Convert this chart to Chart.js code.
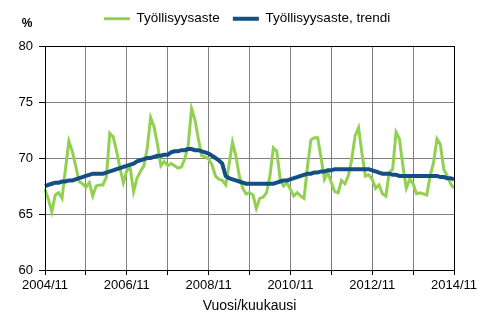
<!DOCTYPE html>
<html>
<head>
<meta charset="utf-8">
<script src="https://cdn.jsdelivr.net/npm/chart.js@4"></script>
<style>
  html, body { margin: 0; padding: 0; background: #fff; }
  #wrap { width: 494px; height: 323px; }
</style>
</head>
<body>
<div id="wrap"><canvas id="chart" width="494" height="323"></canvas></div>
<script>
// Monthly series, 2004/11 ... 2014/11
const startYear = 2004;
const startMonth = 11;
const monthCount = 121;

const months = [];
for (let i = 0; i < monthCount; i++) {
  const m = startMonth - 1 + i;
  months.push(startYear + Math.floor(m / 12) + "/" + String((m % 12) + 1).padStart(2, "0"));
}

const seriesNames = ["Työllisyysaste", "Työllisyysaste, trendi"];

const employmentRate = [
  67.2, 66.3, 65.2, 66.7, 66.9, 66.4, 69.0, 71.5, 70.6, 69.3, 67.9, 67.7,
  67.4, 67.8, 66.6, 67.5, 67.6, 67.6, 68.3, 72.2, 71.9, 70.6, 69.1, 67.8,
  68.9, 69.1, 67.0, 68.2, 68.8, 69.3, 70.9, 73.6, 72.8, 71.2, 69.3, 69.7,
  69.3, 69.5, 69.3, 69.1, 69.2, 69.9, 71.1, 74.4, 73.4, 71.7, 70.2, 70.1,
  69.9, 69.4, 68.4, 68.1, 68.0, 67.6, 69.4, 71.4, 70.2, 68.4, 67.3, 66.8,
  66.9, 66.7, 65.5, 66.4, 66.5, 66.9, 68.4, 70.9, 70.6, 68.1, 67.5, 67.8,
  67.2, 66.6, 66.9, 66.6, 66.4, 69.2, 71.6, 71.8, 71.8, 70.0, 68.1, 68.7,
  67.8, 67.0, 66.9, 68.0, 67.7, 68.4, 69.9, 72.0, 72.7, 70.4, 68.4, 68.5,
  68.1, 67.3, 67.6, 66.8, 66.6, 68.7, 69.0, 72.3, 71.7, 69.3, 67.3, 68.1,
  67.7, 66.8, 66.9, 66.8, 66.7, 68.4, 69.6, 71.7, 71.2, 69.0, 68.4, 67.7,
  67.3
];

const employmentTrend = [
  67.5, 67.6, 67.7, 67.8, 67.8, 67.9, 67.9, 68.0, 68.0, 68.1, 68.2, 68.3,
  68.4, 68.5, 68.6, 68.6, 68.6, 68.6, 68.7, 68.8, 68.9, 69.0, 69.1, 69.2,
  69.3, 69.4, 69.5, 69.7, 69.8, 69.9, 70.0, 70.0, 70.1, 70.2, 70.2, 70.3,
  70.3, 70.5, 70.6, 70.6, 70.7, 70.7, 70.8, 70.8, 70.7, 70.7, 70.6, 70.5,
  70.4, 70.2, 70.0, 69.8, 69.5, 68.4, 68.2, 68.1, 68.0, 67.9, 67.8, 67.7,
  67.7, 67.7, 67.7, 67.7, 67.7, 67.7, 67.7, 67.7, 67.8, 67.9, 68.0, 68.0,
  68.1, 68.2, 68.3, 68.4, 68.5, 68.6, 68.6, 68.7, 68.7, 68.8, 68.8, 68.9,
  68.9, 69.0, 69.0, 69.0, 69.0, 69.0, 69.0, 69.0, 69.0, 69.0, 69.0, 69.0,
  68.9, 68.8, 68.7, 68.6, 68.6, 68.6, 68.5, 68.5, 68.4, 68.4, 68.4, 68.4,
  68.4, 68.4, 68.4, 68.4, 68.4, 68.4, 68.4, 68.4, 68.3, 68.3, 68.2, 68.2,
  68.1
];

const yTicks = [60, 65, 70, 75, 80];
const unitLabel = "%";
const xTitle = "Vuosi/kuukausi";

const FONT = "'Liberation Sans', Arial, sans-serif";
Chart.defaults.font.family = FONT;
Chart.defaults.font.size = 13;
Chart.defaults.color = "#000";

// frame round the plot + the "%" above the y labels; legend height fixed
// and the legend centred over the whole canvas
const framePlugin = {
  id: "frame",
  beforeInit(chart) {
    const fit = chart.legend.fit;
    chart.legend.fit = function () {
      fit.call(this);
      this.height = 47;
    };
  },
  afterLayout(chart) {
    chart.legend.left = 0;
    chart.legend.right = chart.width;
  },
  afterDraw(chart) {
    const { ctx, chartArea: a } = chart;
    ctx.save();
    ctx.strokeStyle = "#000";
    ctx.lineWidth = 1;
    ctx.strokeRect(Math.round(a.left) + 0.5, Math.round(a.top) + 0.5,
      Math.round(a.right - a.left), Math.round(a.bottom - a.top));
    ctx.font = "bold 12px " + FONT;
    ctx.fillStyle = "#000";
    ctx.textAlign = "center";
    ctx.textBaseline = "middle";
    ctx.fillText(unitLabel, 27, 24);
    ctx.restore();
  },
};

new Chart(document.getElementById("chart"), {
  type: "line",
  data: {
    labels: months,
    datasets: [
      {
        label: seriesNames[0],
        data: employmentRate,
        borderColor: "#92d050",
        backgroundColor: "#92d050",
        borderWidth: 3,
        pointRadius: 0,
        order: 1,
      },
      {
        label: seriesNames[1],
        data: employmentTrend,
        borderColor: "#134f85",
        backgroundColor: "#134f85",
        borderWidth: 4,
        pointRadius: 0,
        order: 0,
      },
    ],
  },
  options: {
    responsive: false,
    animation: false,
    layout: { padding: { top: -1, right: 40, bottom: 0, left: 0 } },
    plugins: {
      tooltip: { enabled: false },
      legend: {
        position: "top",
        labels: {
          usePointStyle: true,
          pointStyle: "line",
          pointStyleWidth: 26,
          padding: 13,
          color: "#000",
          font: { size: 13.5 },
          sort: (a, b) => a.datasetIndex - b.datasetIndex,
        },
      },
    },
    scales: {
      x: {
        type: "category",
        offset: false,
        afterFit(scale) { scale.height = 53; },
        grid: {
          color: (c) => (c.index % 12 === 0 ? "#808080" : "rgba(0,0,0,0)"),
          tickColor: (c) => (c.index % 12 === 0 ? "#000" : "rgba(0,0,0,0)"),
          tickLength: 5,
        },
        border: { color: "#000" },
        ticks: {
          autoSkip: false,
          maxRotation: 0,
          minRotation: 0,
          padding: 3,
          callback(value, index) {
            return index % 24 === 0 ? months[index].replace(/\/0?/, "/") : "";
          },
        },
        title: {
          display: true,
          text: xTitle,
          color: "#000",
          font: { size: 14 },
          padding: { top: 0, bottom: 8 },
        },
      },
      y: {
        min: yTicks[0],
        max: yTicks[yTicks.length - 1],
        afterFit(scale) { scale.width = 45; },
        afterBuildTicks(scale) { scale.ticks = yTicks.map((v) => ({ value: v })); },
        grid: { color: "#808080", tickColor: "#000", tickLength: 6 },
        border: { color: "#000" },
        ticks: { padding: 6 },
      },
    },
  },
  plugins: [framePlugin],
});
</script>
</body>
</html>
